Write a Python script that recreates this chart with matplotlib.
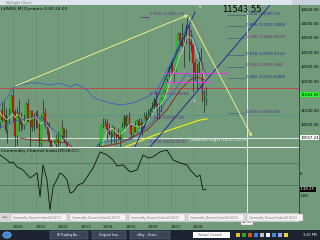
import matplotlib
matplotlib.use('Agg')
import matplotlib.pyplot as plt
import pandas as pd
from matplotlib import transforms
from matplotlib.patches import Rectangle, Circle

# monthly bars, Jun 1999 .. Aug 2008
opens = [10560, 10970, 10655, 10829, 10337, 10729, 10878,
         11497, 10941, 10128, 10922, 10734, 10522, 10448, 10522, 11215, 10651, 10971, 10415,
         10787, 10887, 10495, 9879, 10735, 10912, 10502, 10523, 9950, 8848, 9075, 9852,
         10021, 9920, 10106, 10404, 9946, 9925, 9243, 8737, 8664, 7592, 8397, 8896,
         8342, 8054, 7891, 7992, 8480, 8850, 8985, 9234, 9415, 9275, 9801, 9782,
         10454, 10488, 10583, 10357, 10226, 10188, 10435, 10140, 10174, 10080, 10027, 10428,
         10783, 10490, 10766, 10504, 10193, 10467, 10275, 10641, 10482, 10569, 10440, 10806,
         10718, 10865, 10993, 11109, 11367, 11168, 11150, 11186, 11381, 11679, 12081, 12222,
         12463, 12622, 12269, 12354, 13063, 13628, 13409, 13212, 13358, 13896, 13930, 13372,
         13265, 12650, 12266, 12263, 12820, 12638, 11350, 11378]
highs = [11000, 11252, 11326, 11079, 10800, 11089, 11568,
         11750, 11041, 11136, 11402, 10937, 10700, 10867, 11310, 11401, 10974, 11000, 10899,
         10987, 11000, 10650, 10860, 11350, 11100, 10650, 10600, 10000, 9600, 9900, 10200,
         10300, 10150, 10673, 10400, 10350, 9950, 9350, 9077, 8800, 8550, 9043, 8900,
         8870, 8150, 8520, 8550, 8900, 9350, 9350, 9500, 9700, 9850, 9900, 10500,
         10750, 10750, 10700, 10570, 10300, 10500, 10400, 10300, 10400, 10250, 10600, 10870,
         10850, 10850, 10950, 10550, 10550, 10650, 10700, 10750, 10750, 10600, 10950, 10950,
         11050, 11100, 11300, 11450, 11670, 11250, 11250, 11450, 11720, 12160, 12340, 12530,
         12660, 12800, 12450, 13120, 13700, 13700, 14020, 13600, 14000, 14198, 13900, 13780,
         13280, 12770, 12600, 13000, 13140, 12650, 11700, 11800]
lows = [10400, 10600, 10646, 10213, 9884, 10581, 10998,
        10638, 9731, 9797, 10306, 10300, 10350, 10376, 10600, 10600, 9654, 10300, 10300,
        10400, 10400, 9389, 9700, 10700, 10400, 10175, 9900, 8062, 8659, 9050, 9700,
        9600, 9680, 10000, 9900, 9800, 9000, 7532, 8200, 7500, 7197, 8300, 8200,
        8000, 7700, 7416, 7900, 8400, 8800, 8950, 9000, 9250, 9350, 9600, 9700,
        10400, 10450, 10000, 10150, 9850, 10100, 9900, 9800, 10000, 9750, 10050, 10400,
        10350, 10450, 10450, 10000, 10100, 10250, 10250, 10400, 10300, 10150, 10400, 10650,
        10650, 10750, 10900, 11050, 11050, 10700, 10700, 10950, 11300, 11650, 11980, 12150,
        12350, 12200, 11940, 12350, 13050, 13250, 13180, 12500, 13300, 13800, 12700, 13050,
        11634, 12050, 11731, 12250, 12400, 11300, 10962, 11200]
closes = [10970, 10655, 10829, 10337, 10729, 10878, 11497,
          10941, 10128, 10922, 10734, 10522, 10448, 10522, 11215, 10651, 10971, 10415, 10787,
          10887, 10495, 9879, 10735, 10912, 10502, 10523, 9950, 8848, 9075, 9852, 10021,
          9920, 10106, 10404, 9946, 9925, 9243, 8737, 8664, 7592, 8397, 8896, 8342,
          8054, 7891, 7992, 8480, 8850, 8985, 9234, 9415, 9275, 9801, 9782, 10454,
          10488, 10583, 10357, 10226, 10188, 10435, 10140, 10174, 10080, 10027, 10428, 10783,
          10490, 10766, 10504, 10193, 10467, 10275, 10641, 10482, 10569, 10440, 10806, 10718,
          10865, 10993, 11109, 11367, 11168, 11150, 11186, 11381, 11679, 12081, 12222, 12463,
          12622, 12269, 12354, 13063, 13628, 13409, 13212, 13358, 13896, 13930, 13372, 13265,
          12650, 12266, 12263, 12820, 12638, 11350, 11378, 11543.55]

# overlay lines (time in years, price)
upper_band_t = [1999.42, 1999.73, 2000.0, 2000.31, 2000.76, 2001.2, 2001.64, 2002.09, 2002.53,
                2002.84, 2003.29, 2003.56, 2003.87, 2004.31, 2004.76, 2005.33, 2005.96, 2006.4,
                2006.67, 2006.98, 2007.29, 2007.56, 2007.78, 2008.18, 2008.44, 2008.62]
upper_band_p = [11190, 11431, 11776, 11879, 11948, 11948, 11879, 11948, 11810,
                11914, 11707, 11466, 11362, 11259, 11190, 11259, 11466, 11707,
                12121, 12569, 13086, 13603, 13948, 13155, 12500, 12224]
lower_band_t = [1999.42, 2000.0, 2000.62, 2001.07, 2001.64, 2002.09, 2002.4, 2002.76, 2003.42,
                2003.87, 2004.53, 2005.2, 2005.96, 2006.4, 2006.84, 2007.29, 2007.73, 2008.31, 2008.62]
lower_band_p = [10397, 10603, 10741, 10810, 10431, 10155, 9914, 9569, 9569,
                9879, 9983, 9983, 10431, 10776, 11362, 11810, 12293, 11879, 11362]
slow_ma_t = [2000.31, 2000.76, 2001.64, 2002.4, 2002.76, 2003.64, 2003.87, 2004.76, 2005.96,
             2006.84, 2007.42, 2007.87, 2008.18, 2008.53]
slow_ma_p = [10052, 9983, 9948, 9879, 9638, 9569, 9741, 9879, 10328,
             11017, 11707, 12052, 12155, 12052]
long_ma_t = [2004.98, 2005.64, 2006.31, 2006.98, 2007.64, 2008.31, 2008.62]
long_ma_p = [9741, 9948, 10155, 10328, 10500, 10672, 10707]

up_arrow_t = [2000.0, 2007.9]
up_arrow_p = [11810, 14330]
down_arrow_t = [2007.78, 2010.67]
down_arrow_p = [14293, 10017]
trend1_t = [2005.42, 2008.09]
trend1_p = [9741, 14397]
trend2_t = [2006.09, 2011.42]
trend2_p = [9741, 14638]
sar1_t = [2000.18, 2002.98]
sar1_p = [11810, 9879]
sar2_t = [2008.09, 2008.53]
sar2_p = [14121, 13431]

resistance = 11776
support = 10845
target = 10067.24
last_price = 11543.55
magenta_p = [12293, 11983]
magenta_t0 = [2006.7, 2006.7]
magenta_t1 = [2009.6, 2008.8]

fib_right_labels = ['1.000 (14280.13)', '0.886 (13922.3289)', '0.786 (13483.8919)',
                    '0.618 (12910.3312)', '0.500 (12515.568)', '0.382 (12116.6389)',
                    '0.000 (10923.84)']
fib_right_levels = [14280.13, 13922.33, 13483.89, 12910.33, 12515.57, 12116.64, 10923.84]
fib_left_labels = ['0.000 (14280.13)', '0.382 (11512.6296)', '0.500 (10700.18)',
                   '0.618 (9879.9506)']
fib_left_levels = [14280.13, 11512.63, 10700.18, 9879.95]

cci_t = [1999.42, 1999.73, 1999.87, 2000.0, 2000.18, 2000.44, 2000.76, 2001.07, 2001.2, 2001.33,
         2001.51, 2001.64, 2001.78, 2002.09, 2002.22, 2002.4, 2002.53, 2002.67, 2002.89, 2003.11,
         2003.29, 2003.56, 2003.87, 2004.18, 2004.44, 2004.62, 2004.89, 2005.2, 2005.51, 2005.78,
         2006.0, 2006.22, 2006.53, 2006.84, 2007.11, 2007.42, 2007.73, 2007.87, 2008.18, 2008.31,
         2008.44, 2008.58]
cci_v = [173, 127, 100, 109, 64, 36, -36, 9, -209, 82,
         -55, -327, -118, 9, -9, -55, -173, -164, -100, -82,
         -27, 55, 200, 173, 127, 73, 82, 18, 36, 173,
         145, 155, 200, 218, 127, 100, 82, 36, -27, -9,
         -145, -138.25]

years = [2000, 2001, 2002, 2003, 2004, 2005, 2006, 2007, 2008]
price_ticks = [10500, 11000, 12000, 12500, 13000, 13500, 14000, 14500]
cursor_t = 2010.4
cursor_label = '10/10'

W, H = 320, 240
GREEN = '#719b7b'


def frac(x0, y0, x1, y1):
    return [x0 / W, 1 - y1 / H, (x1 - x0) / W, (y1 - y0) / H]


fig = plt.figure(figsize=(3.2, 2.4), dpi=100)
fig.patch.set_facecolor(GREEN)

ax = fig.add_axes(frac(0, 5, 299, 147))
ax2 = fig.add_axes(frac(0, 147, 299, 213), sharex=ax)
for a in (ax, ax2):
    a.set_facecolor(GREEN)
    for s in a.spines.values():
        s.set_visible(False)
    a.spines['right'].set_visible(True)
    a.spines['right'].set_color('#2f3f33')
    a.spines['right'].set_linewidth(0.6)
    a.tick_params(axis='x', length=0, labelbottom=False)
    a.yaxis.tick_right()
    a.tick_params(axis='y', length=0, pad=0.8, labelsize=2.75, labelcolor='black')
    for yr in years:
        a.axvline(yr, color='#679170', lw=0.4, zorder=0)

ax.set_xlim(1999.42, 2012.71)
ax.set_ylim(9741, 14638)
ax.set_yticks(price_ticks)
ax.set_yticklabels([f'{v:.2f}' for v in price_ticks])

# candles
dates = pd.date_range('1999-06-01', periods=len(closes), freq='MS')
t = dates.year + (dates.month - 1) / 12
bottoms = [min(o, c) for o, c in zip(opens, closes)]
heights = [max(abs(c - o), 25) for o, c in zip(opens, closes)]
colors = ['#10e010' if c >= o else '#e01010' for o, c in zip(opens, closes)]
ax.vlines(t, lows, highs, color='#1a1a1a', lw=0.45, zorder=3)
ax.bar(t, heights, bottom=bottoms, width=0.065, color=colors, edgecolor='#202020',
       linewidth=0.15, zorder=4)

fast_ma = pd.Series(closes).rolling(6, min_periods=1).mean()
ax.plot(t, fast_ma, color='#d4e4d4', lw=0.45, zorder=5)

ax.plot(upper_band_t, upper_band_p, color='#3454c4', lw=0.5, zorder=5)
ax.plot(lower_band_t, lower_band_p, color='#3454c4', lw=0.5, zorder=5)
ax.plot(slow_ma_t, slow_ma_p, color='#8a1e1e', lw=0.6, zorder=5)
ax.plot(long_ma_t, long_ma_p, color='#eaea20', lw=0.9, zorder=5)
ax.plot(trend1_t, trend1_p, color='#1a1a9a', lw=0.6, zorder=6)
ax.plot(trend2_t, trend2_p, color='#1a1a9a', lw=0.6, zorder=6)
ax.plot(sar1_t, sar1_p, color='#d84040', lw=0.5, ls=(0, (1, 2)), zorder=5)
ax.plot(sar2_t, sar2_p, color='#e04040', lw=0.6, ls=(0, (1, 2)), zorder=5)

ax.axhline(resistance, color='#c84040', lw=0.6, zorder=2)
ax.axhline(support, color='#4a8c8c', lw=0.4, zorder=2)
ax.axhline(target, color='#f4f4f4', lw=0.6, zorder=2)
for p, a0, a1 in zip(magenta_p, magenta_t0, magenta_t1):
    ax.hlines(p, a0, a1, color='#e040e0', lw=0.8, zorder=6)

ax.annotate('', xy=(up_arrow_t[1], up_arrow_p[1]), xytext=(up_arrow_t[0], up_arrow_p[0]),
            arrowprops=dict(arrowstyle='->', color='#f0f08a', lw=0.7, mutation_scale=5), zorder=7)
ax.annotate('', xy=(down_arrow_t[1], down_arrow_p[1]), xytext=(down_arrow_t[0], down_arrow_p[0]),
            arrowprops=dict(arrowstyle='->', color='#e8e890', lw=0.7, mutation_scale=5), zorder=7)

right_colors = ['#2a2a9a', '#2a2a9a', '#7a287a', '#2a2a9a', '#7a287a', '#2a2a9a', '#5a2a8a']
for lab, lev, col in zip(fib_right_labels, fib_right_levels, right_colors):
    ax.hlines(lev, 2009.5, 2010.33, color='#34507a', lw=0.4, zorder=6)
    ax.text(2010.36, lev + 40, lab, fontsize=2.9, color=col, va='center', ha='left', zorder=8)
for lab, lev in zip(fib_left_labels, fib_left_levels):
    ax.text(2006.09, lev + 40, lab, fontsize=2.9, color='#6a2a8a', va='center', ha='left',
            zorder=8)
ax.hlines(fib_left_levels[0] - 60, 2005.64, 2006.05, color='#6a2a8a', lw=0.6, zorder=6)

ax.text(2007.87, target - 20, 'Downside target (10067.24) 50', fontsize=2.6,
        color='#f4f4f4', va='top', ha='left', zorder=8)
ax.text(2010.18, 14500, f'{last_price:.2f}', fontsize=6, color='black', ha='center',
        va='center', zorder=8)
ax.text(2008.3, 14560, '5', fontsize=3, color='#f0f0f0', ha='center', va='center', zorder=8)
ax.text(2008.05, 11330, '3', fontsize=3, color='#f0f0f0', ha='center', va='center', zorder=8)
ax.text(0.004, 0.985, '[$INDU.M] Dynamic,0.00 24.00', transform=ax.transAxes, fontsize=3.1,
        color='black', va='top', ha='left')

ybox = transforms.blended_transform_factory(ax.transAxes, ax.transData)
ax.text(1.004, last_price, f'{last_price:.2f}', transform=ybox, fontsize=2.75, va='center',
        ha='left', bbox=dict(fc='#20ff20', ec='none', pad=0.3), zorder=9, clip_on=False)
ax.text(1.004, target, f'{target:.2f}', transform=ybox, fontsize=2.75, va='center',
        ha='left', bbox=dict(fc='white', ec='none', pad=0.3), zorder=9, clip_on=False)

# CCI panel
ax2.set_ylim(-355, 245)
ax2.set_yticks([0, -200])
ax2.set_yticklabels(['0', '-200'])
ax2.axhline(100, color='#4f6f57', lw=0.5)
ax2.axhline(-100, color='#4f6f57', lw=0.5)
ax2.plot(cci_t, cci_v, color='#111111', lw=0.6)
ax2.text(0.004, 0.97, 'Commodity Channel Index(20,HLCC)', transform=ax2.transAxes,
         fontsize=3.1, color='black', va='top', ha='left')
ybox2 = transforms.blended_transform_factory(ax2.transAxes, ax2.transData)
ax2.text(1.004, cci_v[-1], f'{cci_v[-1]:.2f}', transform=ybox2, fontsize=2.75, color='white',
         va='center', ha='left', bbox=dict(fc='black', ec='none', pad=0.3), clip_on=False)

for a in (ax, ax2):
    a.axvline(cursor_t, color='#f4f4f4', lw=0.6, zorder=7)

# panel separator
fig.add_artist(Rectangle((0, 1 - 148 / H), 299 / W, 1.3 / H, transform=fig.transFigure,
                         fc='#eeeeee', ec='none'))

# window title bar
fig.add_artist(Rectangle((0, 1 - 5 / H), 1, 5 / H, transform=fig.transFigure,
                         fc='#dde4ec', ec='none'))
fig.add_artist(Rectangle((292 / W, 1 - 5 / H), 28 / W, 5 / H, transform=fig.transFigure,
                         fc='#c8d2de', ec='none'))
fig.text(6 / W, 1 - 2.6 / H, 'Multiple Chart', fontsize=2.6, color='#777777', va='center')

# tab strip
fig.add_artist(Rectangle((0, 1 - 222 / H), 299 / W, 9 / H, transform=fig.transFigure,
                         fc='#d6d6d6', ec='none'))
fig.text(2 / W, 1 - 217.5 / H, '\u25c4 \u25ba', fontsize=2.2, color='#555555', va='center')
for x0 in (11, 70, 129, 188, 247):
    fig.add_artist(Rectangle((x0 / W, 1 - 221 / H), 56 / W, 7 / H, transform=fig.transFigure,
                             fc='#f4f4f4', ec='#a0a0a0', lw=0.3))
    fig.text((x0 + 2) / W, 1 - 217.5 / H, 'Commodity Channel Index(20,HLCC)', fontsize=1.9,
             color='#666666', va='center')

# cursor date box and year labels
xtrans = transforms.blended_transform_factory(ax.transData, fig.transFigure)
ax.text(cursor_t, 1 - 222 / H, cursor_label, transform=xtrans, fontsize=2.6, ha='center',
        va='center', bbox=dict(fc='white', ec='#888888', lw=0.3, pad=0.4), clip_on=False,
        zorder=10)
for yr in years:
    ax.text(yr, 1 - 227 / H, str(yr), transform=xtrans, fontsize=3.1, color='#1a1a1a',
            ha='left', va='center', clip_on=False)

# taskbar
fig.add_artist(Rectangle((0, 0), 1, 10 / H, transform=fig.transFigure, fc='#1c2431', ec='none'))
fig.add_artist(Circle((7 / W, 5 / H), 4.2 / W, transform=fig.transFigure, fc='#3f86d8',
                      ec='#9cc8f0', lw=0.4))
for x0, x1, lab in [(50, 88, 'W Trading Au...'), (92, 126, 'Original Ima...'),
                    (130, 170, 'eBay - Deals...')]:
    fig.add_artist(Rectangle((x0 / W, 1 / H), (x1 - x0) / W, 8 / H, transform=fig.transFigure,
                             fc='#3a4657', ec='#6a7687', lw=0.3))
    fig.text((x0 + 7) / W, 5 / H, lab, fontsize=2.2, color='white', va='center')
fig.add_artist(Rectangle((193 / W, 2 / H), 37 / W, 6 / H, transform=fig.transFigure,
                         fc='white', ec='none'))
fig.text(198 / W, 5 / H, 'Yahoo! Search', fontsize=2.4, color='#555555', va='center')
for x0, c in zip(range(236, 286, 6), ['#e0c020', '#30a030', '#e05020', '#4080e0', '#c0c0c0',
                                      '#f0f0f0', '#4090d0', '#a0a0ff', '#e0e040']):
    fig.add_artist(Rectangle((x0 / W, 3 / H), 4 / W, 4 / H, transform=fig.transFigure,
                             fc=c, ec='none'))
fig.text(303 / W, 5 / H, '3:20 PM', fontsize=2.4, color='white', va='center')

plt.savefig('out.png', dpi=100, facecolor=fig.get_facecolor())
plt.close()
